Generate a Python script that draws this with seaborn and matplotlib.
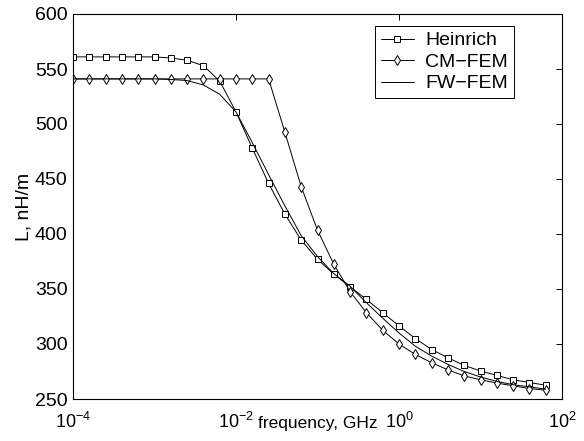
import numpy as np
import pandas as pd
import matplotlib
matplotlib.use('Agg')
import matplotlib.pyplot as plt
from matplotlib.ticker import NullLocator
import seaborn as sns

# frequency points, GHz (0.2 decade steps)
freq = [1.000e-4, 1.585e-4, 2.512e-4, 3.981e-4, 6.310e-4,
        1.000e-3, 1.585e-3, 2.512e-3, 3.981e-3, 6.310e-3,
        1.000e-2, 1.585e-2, 2.512e-2, 3.981e-2, 6.310e-2,
        1.000e-1, 1.585e-1, 2.512e-1, 3.981e-1, 6.310e-1,
        1.000e0, 1.585e0, 2.512e0, 3.981e0, 6.310e0,
        1.000e1, 1.585e1, 2.512e1, 3.981e1, 6.310e1]

# inductance, nH/m
heinrich = [561, 561, 561, 561, 561, 561, 560, 558, 553, 539,
            511, 478, 446, 418, 394.5, 377, 363.5, 352, 340.5, 328.5,
            316.5, 305, 295, 287.5, 280.5, 275.5, 271.5, 267.5, 265, 262.5]
cm_fem = [541, 541, 541, 541, 541, 541, 541, 541, 541, 541,
          541, 541, 541, 492.5, 443, 403.5, 372.5, 347.5, 328.5, 312.5,
          300, 290.5, 283, 276.5, 271, 267.5, 264.5, 262, 259.5, 258]
fw_fem = [541, 541, 541, 541, 541, 541, 540.5, 539.5, 535.5, 527,
          511, 483, 454, 425.5, 398.5, 379.5, 364, 352.5, 337.5, 323.5,
          310, 298, 289, 281.5, 275, 270, 266, 263, 261, 259]

sns.set_style('white')
plt.rcParams['font.family'] = ['Liberation Sans', 'DejaVu Sans']
plt.rcParams['text.color'] = 'black'
plt.rcParams['axes.labelcolor'] = 'black'
plt.rcParams['axes.edgecolor'] = 'black'
plt.rcParams['xtick.color'] = 'black'
plt.rcParams['ytick.color'] = 'black'

fig = plt.figure(figsize=(5.84, 4.41), dpi=100)
ax = fig.add_axes([73 / 584, 1 - 399 / 441, 489 / 584, 385 / 441])

line_kw = dict(color='black', linewidth=0.7, markerfacecolor='white',
               markeredgecolor='black', markeredgewidth=0.7)
sns.lineplot(x=freq, y=heinrich, marker='s', markersize=4,
             label='Heinrich', ax=ax, **line_kw)
sns.lineplot(x=freq, y=cm_fem, marker='d', markersize=5.5,
             label='CM\u2212FEM', ax=ax, **line_kw)
sns.lineplot(x=freq, y=fw_fem, label='FW\u2212FEM', ax=ax,
             color='black', linewidth=0.7)

ax.set_xscale('log')
ax.set_xlim(1e-4, 1e2)
ax.set_ylim(250, 600)
ax.set_xticks([1e-4, 1e-2, 1e0, 1e2])
ax.xaxis.set_minor_locator(NullLocator())
ax.set_yticks(np.arange(250, 601, 50))

for s in ax.spines.values():
    s.set_linewidth(0.8)
    s.set_visible(True)
ax.tick_params(direction='in', top=True, right=True, length=4, width=0.7,
               labelsize=14, pad=4)
ax.tick_params(axis='x', pad=9, labelsize=13)

ax.set_xlabel('frequency, GHz', fontsize=12.5)
ax.set_ylabel('L, nH/m', fontsize=14)
ax.xaxis.set_label_coords(0.5, -0.045)
ax.yaxis.set_label_coords(-0.082, 0.5)

leg = ax.legend(loc='upper right', bbox_to_anchor=(0.902, 0.969),
                fontsize=14, frameon=True, fancybox=False, framealpha=1,
                edgecolor='black', handlelength=1.7, borderaxespad=0,
                labelspacing=0.2, borderpad=0.3, handletextpad=0.6)
leg.get_frame().set_linewidth(0.7)

fig.savefig('out.png', dpi=100)
